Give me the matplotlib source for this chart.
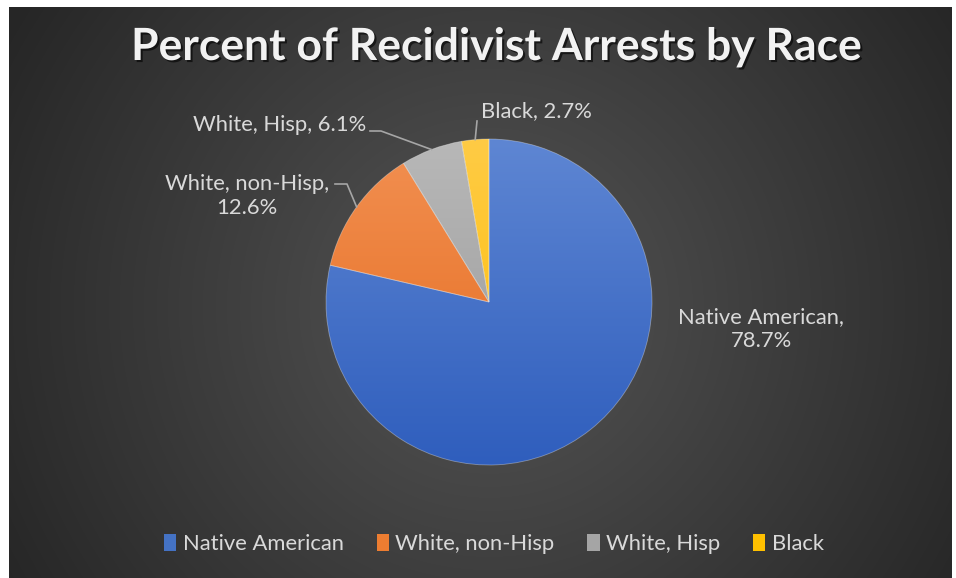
import numpy as np
import matplotlib
matplotlib.use("Agg")
import matplotlib.pyplot as plt
import matplotlib.patheffects as pe
from matplotlib.colors import LinearSegmentedColormap
from matplotlib.patches import Patch

# Share of recidivist arrests by race
races = ["Native American", "White, non-Hisp", "White, Hisp", "Black"]
percent = [78.7, 12.6, 6.1, 2.7]

# Slice colours (flat for the legend, light->dark shading for the pie)
base_colors = ["#4472C4", "#ED7D31", "#A5A5A5", "#FFC000"]
top_colors = ["#5E86D3", "#F29052", "#B8B8B8", "#FFCB45"]
bottom_colors = ["#2F5EBD", "#E4691B", "#979797", "#FDBD00"]

W, H = 956, 578
CX, CY, R = 489, 302, 163  # pie centre / radius in pixels


def px(x, y):
    """pixel (from top-left) -> pie data coordinates"""
    return (x - CX) / R, (CY - y) / R


plt.rcParams["font.family"] = ["Lato", "DejaVu Sans"]
text_col = "#D9D9D9"

fig = plt.figure(figsize=(W / 100, H / 100), dpi=100, facecolor="white")

# dark radial background panel
bg = fig.add_axes([9 / W, 0, (952 - 9) / W, (578 - 7) / H])
yy, xx = np.mgrid[0:571, 0:943]
dist = np.clip(np.hypot(xx - 480, yy - 300) / 560, 0, 1)
bg_cmap = LinearSegmentedColormap.from_list("bg", ["#555555", "#262626"])
bg.imshow(dist, cmap=bg_cmap, vmin=0, vmax=1, aspect="auto")
bg.axis("off")

ax = fig.add_axes([0, 0, 1, 1])
ax.patch.set_alpha(0)
wedges, _ = ax.pie(percent, startangle=90, counterclock=False,
                   colors=base_colors, radius=1, center=(0, 0),
                   wedgeprops=dict(edgecolor=(1, 1, 1, 0.35), linewidth=0.6))

# vertical shading inside every slice
grad = np.linspace(0, 1, 256).reshape(-1, 1)
for w, c_top, c_bot in zip(wedges, top_colors, bottom_colors):
    cm = LinearSegmentedColormap.from_list("g", [c_bot, c_top])
    im = ax.imshow(grad, extent=(-1, 1, -1, 1), origin="lower", cmap=cm,
                   aspect="auto", zorder=0.5)
    im.set_clip_path(w)
    w.set_facecolor("none")

x0, y1 = px(0, 0)
x1, y0 = px(W, H)
ax.set_xlim(x0, x1)
ax.set_ylim(y0, y1)
ax.set_aspect("auto")
ax.axis("off")

# data labels
label_pos = [px(761, 329), px(247, 196), px(366, 125), px(481, 111)]
label_ha = ["center", "center", "right", "left"]
wrap = [True, True, False, False]
for race, p, pos, ha, brk in zip(races, percent, label_pos, label_ha, wrap):
    sep = ",\n" if brk else ", "
    ax.text(pos[0], pos[1], f"{race}{sep}{p}%", ha=ha, va="center",
            ma="center", fontsize=15.8, color=text_col, linespacing=1.22)

# leader lines for the small slices
elbows = {1: [px(335, 184), px(347, 184)],
          2: [px(370, 131), px(381, 131)],
          3: [px(477, 121)]}
for i, pts in elbows.items():
    w = wedges[i]
    mid = np.deg2rad((w.theta1 + w.theta2) / 2)
    xs = [p[0] for p in pts] + [np.cos(mid)]
    ys = [p[1] for p in pts] + [np.sin(mid)]
    ax.plot(xs, ys, color="#A6A6A6", lw=1.2, zorder=3)

fig.text(497 / W, 1 - 47 / H, "Percent of Recidivist Arrests by Race",
         ha="center", va="center", fontsize=32, fontweight="bold",
         color="#F2F2F2",
         path_effects=[pe.withSimplePatchShadow(offset=(1.5, -1.5),
                                                shadow_rgbFace="black",
                                                alpha=0.6)])

handles = [Patch(facecolor=c, edgecolor="none") for c in base_colors]
fig.legend(handles, races, loc="center", bbox_to_anchor=(494 / W, 1 - 544 / H),
           ncol=4, frameon=False, fontsize=15.8, labelcolor=text_col,
           handlelength=0.55, handleheight=0.8, handletextpad=0.3,
           columnspacing=1.5)

fig.savefig("out.png", dpi=100, facecolor="white")
